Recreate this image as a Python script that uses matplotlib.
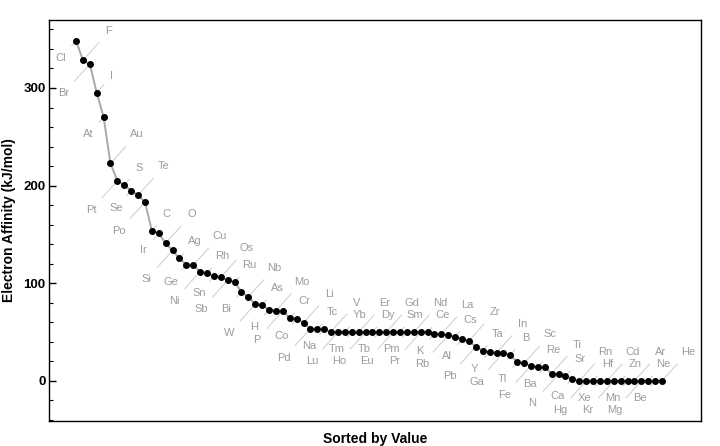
import matplotlib
matplotlib.use("Agg")
import matplotlib.pyplot as plt
from matplotlib.ticker import MultipleLocator

plt.rcParams['font.family'] = ['Liberation Sans', 'DejaVu Sans']

elements = ["Cl", "F", "Br", "I", "At", "Au", "Pt", "S", "Se", "Te", "Po", "C", "Ir", "O",
            "Si", "Ag", "Ge", "Cu", "Ni", "Rh", "Sn", "Os", "Sb", "Ru", "Bi", "Nb", "W", "As",
            "H", "Mo", "P", "Cr", "Co", "Li", "Pd", "Tc", "Na", "V", "Lu", "Yb", "Tm", "Er",
            "Ho", "Dy", "Tb", "Gd", "Eu", "Sm", "Pm", "Nd", "Pr", "Ce", "K", "La", "Rb", "Cs",
            "Al", "Zr", "Pb", "Ta", "Y", "In", "Ga", "B", "Tl", "Sc", "Fe", "Re", "Ba", "Ti",
            "N", "Sr", "Ca", "Rn", "Hg", "Hf", "Xe", "Cd", "Kr", "Zn", "Mn", "Ar", "Mg", "Ne",
            "Be", "He"]
affinity = [348.6, 328.2, 324.5, 295.2, 270.1, 222.7, 205.0, 200.4, 195.0, 190.2, 183.3,
            153.9, 151.0, 141.0, 133.6, 125.6, 119.0, 118.4, 112.0, 110.3, 107.3, 106.1,
            103.2, 101.3, 91.2, 86.1, 78.6, 78.0, 72.8, 71.9, 71.8, 64.3, 63.7, 59.6, 53.7,
            53.0, 52.8, 50.6, 50, 50, 50, 50, 50, 50, 50, 50, 50, 50, 50, 50, 50, 50,
            48.4, 48.0, 46.9, 45.5, 42.5, 41.1, 35.1, 31.0, 29.6, 28.9, 28.9, 26.7, 19.2,
            18.1, 15.7, 14.5, 13.95, 7.6, 7.0, 5.03, 2.37,
            0, 0, 0, 0, 0, 0, 0, 0, 0, 0, 0, 0, 0]
y_major = [0, 100, 200, 300]

fig = plt.figure(figsize=(7.2, 4.46), dpi=100)
ax = fig.add_axes([49/720, 25/446, 652/720, 401/446])

xs = list(range(len(affinity)))
ax.plot(xs, affinity, color="#a8a8a8", lw=1.4, zorder=2)
ax.plot(xs, affinity, 'o', color="black", ms=4.0, zorder=3)

px = 0.72  # points per pixel
# cycle of callout placements: below-near, above-far, below-far, above-near
offsets = [(-15, -17), (26, 29), (-26, -29), (15, 17)]
for i, (name, v) in enumerate(zip(elements, affinity)):
    dx, dy = offsets[i % 4]
    ax.annotate(name, xy=(i, v), xytext=(dx*px, dy*px), textcoords='offset points',
                ha='center', va='center', fontsize=8, color="#9c9c9c",
                arrowprops=dict(arrowstyle='-', color="#cccccc", lw=0.7,
                                shrinkA=4.0, shrinkB=1.0),
                zorder=1)

ax.set_xlim(-3.92, 90.66)
ax.set_ylim(-41, 369.6)
ax.set_xticks([])
ax.set_yticks(y_major)
ax.yaxis.set_minor_locator(MultipleLocator(20))
ax.tick_params(axis='y', which='major', direction='in', length=5, width=1, pad=2.5,
               labelsize=9.5)
ax.tick_params(axis='y', which='minor', direction='in', length=3, width=0.8)
for lab in ax.get_yticklabels():
    lab.set_fontweight('bold')
for s in ax.spines.values():
    s.set_linewidth(1.0)

ax.set_ylabel("Electron Affinity (kJ/mol)", fontsize=10, fontweight='bold', labelpad=5)
ax.set_xlabel("Sorted by Value", fontsize=10, fontweight='bold', labelpad=8)

fig.savefig("out.png", dpi=100)
